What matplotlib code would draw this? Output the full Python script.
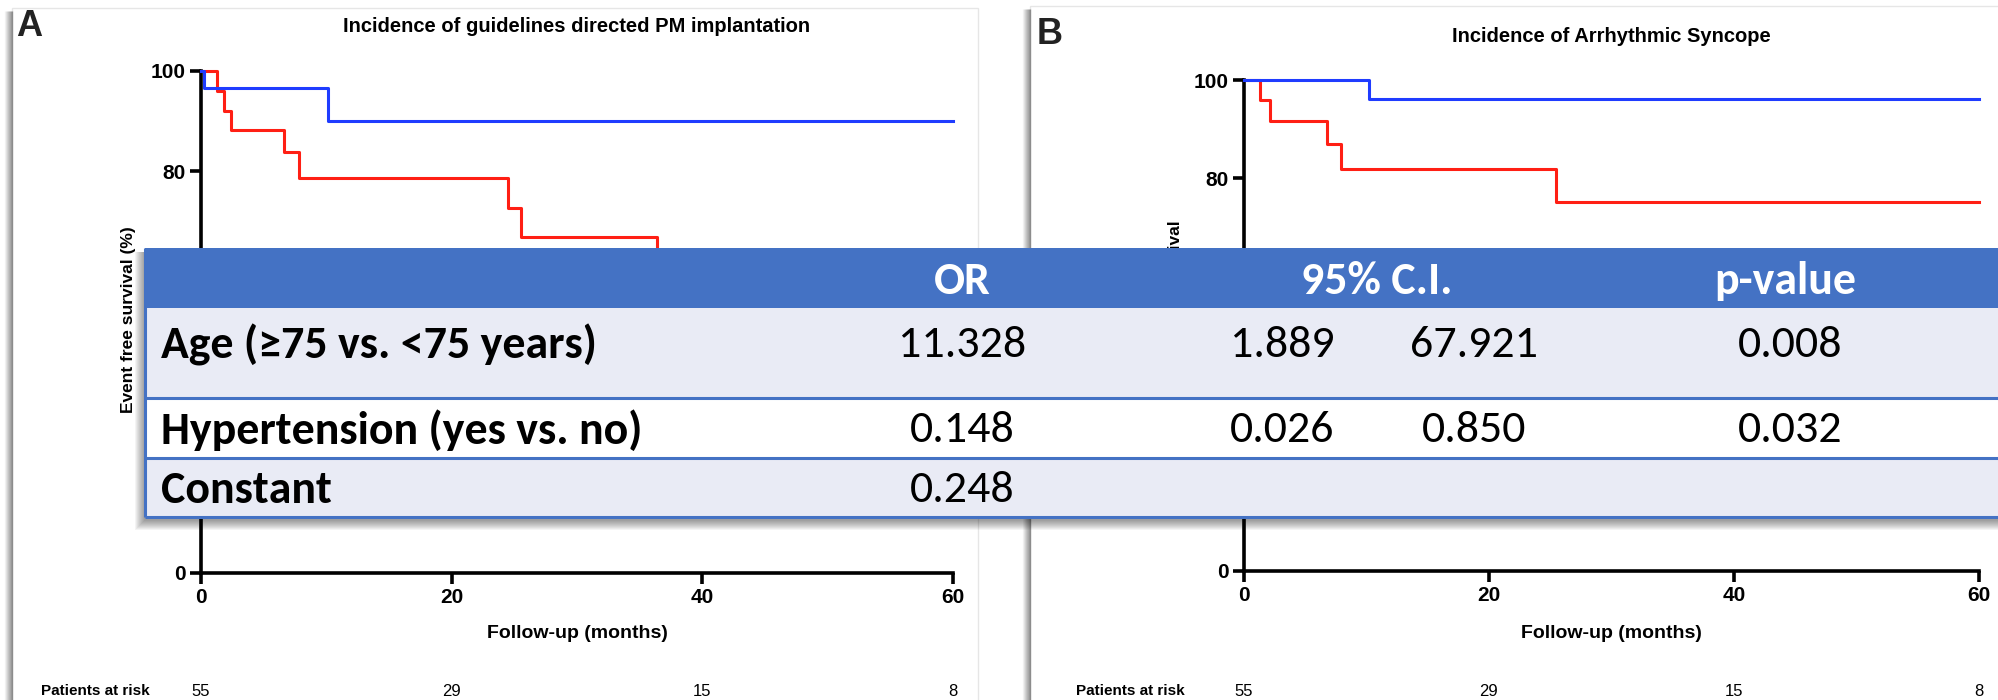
import matplotlib
matplotlib.use('Agg')
import matplotlib.pyplot as plt
from matplotlib.patches import Rectangle
from matplotlib.transforms import blended_transform_factory

W, H = 1998, 700

# Courbes de survie (temps en mois, survie en %)
a_blue_t = [0, 0.2, 10.1, 60]
a_blue_s = [100, 96.7, 90.0, 90.0]
a_red_t = [0, 1.3, 1.8, 2.4, 6.6, 7.8, 24.5, 25.5, 36.4, 60]
a_red_s = [100, 96.1, 92.1, 88.2, 83.8, 78.7, 72.8, 66.9, 58.0, 58.0]

b_blue_t = [0, 10.2, 60]
b_blue_s = [100, 96.2, 96.2]
b_red_t = [0, 1.3, 2.1, 6.8, 7.9, 25.5, 60]
b_red_s = [100, 96.0, 91.7, 87.0, 81.8, 75.2, 75.2]

risk_t = [0, 20, 40, 60]
risk_n = [55, 29, 15, 8]

y_ticks = [0, 20, 40, 60, 80, 100]
# les étiquettes 20, 40 et 60 sont cachées par le tableau
y_ticklabels = ['0', '', '', '', '80', '100']

# Tableau de la régression logistique
tbl_header = ['OR', '95% C.I.', 'p-value']
tbl_rows = ['Age (≥75 vs. <75 years)', 'Hypertension (yes vs. no)', 'Constant']
tbl_or = ['11.328', '0.148', '0.248']
tbl_ci_low = ['1.889', '0.026', '']
tbl_ci_high = ['67.921', '0.850', '']
tbl_p = ['0.008', '0.032', '']

ARIAL = ['Liberation Sans', 'DejaVu Sans']
CALIBRI = ['Carlito', 'Lato', 'DejaVu Sans']
RED = '#ff1f14'
BLUE = '#1f3cff'
TS = 33  # taille du texte du tableau


def box(x0, y0, x1, y1):
    return [x0 / W, 1 - y1 / H, (x1 - x0) / W, (y1 - y0) / H]


fig = plt.figure(figsize=(W / 100, H / 100), dpi=100)

# fond : cadres des deux panneaux
bg = fig.add_axes([0, 0, 1, 1], zorder=0)
bg.set_xlim(0, W)
bg.set_ylim(H, 0)
bg.axis('off')
for x0, y0, x1 in [(12, 8, 978), (1030, 6, 2010)]:
    bg.add_patch(Rectangle((x0, y0), x1 - x0, H + 20 - y0, facecolor='white',
                           edgecolor='#e6e6e6', lw=1))
    for k in range(8):
        bg.plot([x0 - k, x0 - k], [y0 + 3, H + 10], color='black',
                alpha=0.35 * (1 - k / 8), lw=1, solid_capstyle='butt')

panels = [
    dict(rect=(201, 71, 953, 573), letter='A', lxy=(16, 27), ylab='Event free survival (%)',
         yl_xy=(129, 320), title='Incidence of guidelines directed PM implantation', ty=27,
         risk_x=41, blue=(a_blue_t, a_blue_s), red=(a_red_t, a_red_s)),
    dict(rect=(1244, 80, 1979, 571), letter='B', lxy=(1037, 34), ylab='Event free survival',
         yl_xy=(1175, 298), title='Incidence of Arrhythmic Syncope', ty=36,
         risk_x=1076, blue=(b_blue_t, b_blue_s), red=(b_red_t, b_red_s)),
]

for p in panels:
    x0, y0, x1, y1 = p['rect']
    ax = fig.add_axes(box(x0, y0, x1, y1), zorder=1)
    ax.patch.set_alpha(0)
    ax.step(*p['red'], where='post', color=RED, lw=2.2, clip_on=False, zorder=3)
    ax.step(*p['blue'], where='post', color=BLUE, lw=2.2, clip_on=False, zorder=4)
    ax.set_xlim(0, 60)
    ax.set_ylim(0, 100)
    for s in ['top', 'right']:
        ax.spines[s].set_visible(False)
    for s in ['left', 'bottom']:
        ax.spines[s].set_linewidth(2.6)
    ax.set_xticks(risk_t)
    ax.set_yticks(y_ticks, labels=y_ticklabels)
    ax.tick_params(direction='out', length=8, width=2.6, pad=3, labelsize=15)
    for lab in ax.get_xticklabels() + ax.get_yticklabels():
        lab.set_fontfamily(ARIAL)
        lab.set_fontweight('bold')

    xc = (x0 + x1) / 2
    bg.text(xc, p['ty'], p['title'], ha='center', va='center', fontsize=14.5,
            fontweight='bold', family=ARIAL)
    bg.text(p['lxy'][0], p['lxy'][1], p['letter'], ha='left', va='center', fontsize=26,
            fontweight='bold', family=ARIAL, color='#222222')
    bg.text(p['yl_xy'][0], p['yl_xy'][1], p['ylab'], rotation=90, ha='center', va='center',
            fontsize=12.5, fontweight='bold', family=ARIAL)
    bg.text(xc, 633, 'Follow-up (months)', ha='center', va='center', fontsize=14,
            fontweight='bold', family=ARIAL)
    bg.text(p['risk_x'], 691, 'Patients at risk', ha='left', va='center', fontsize=11,
            fontweight='bold', family=ARIAL)
    tr = blended_transform_factory(ax.transData, fig.transFigure)
    for t, n in zip(risk_t, risk_n):
        ax.text(t, 1 - 691 / H, str(n), transform=tr, ha='center', va='center',
                fontsize=12, family=ARIAL, clip_on=False)

# tableau superposé
tab = fig.add_axes([0, 0, 1, 1], zorder=5)
tab.set_xlim(0, W)
tab.set_ylim(H, 0)
tab.axis('off')
tab.patch.set_alpha(0)

left, top, bottom = 145, 248, 517
edges = [248, 308, 398, 458, 517]
# ombre portée
for k in range(10):
    tab.add_patch(Rectangle((left - 10 + k, top + 4), W, bottom - top + 9 - k,
                            facecolor='black', alpha=0.045, lw=0))
fills = ['#4472c4', '#e9ebf5', '#ffffff', '#e9ebf5']
for i, c in enumerate(fills):
    tab.add_patch(Rectangle((left, edges[i]), W, edges[i + 1] - edges[i], facecolor=c, lw=0))
for y in edges[2:]:
    tab.plot([left, W + 10], [y, y], color='#4472c4', lw=2.2, solid_capstyle='butt')
tab.plot([left, left], [top, bottom], color='#4472c4', lw=2.2, solid_capstyle='butt')

hx = [962, 1377, 1785]
for x, h in zip(hx, tbl_header):
    tab.text(x, 281, h, ha='center', va='center', fontsize=TS, fontweight='bold',
             color='white', family=CALIBRI)
row_y = [345, 430, 490]
for y, lab, o, lo, hi, pv in zip(row_y, tbl_rows, tbl_or, tbl_ci_low, tbl_ci_high, tbl_p):
    tab.text(161, y, lab, ha='left', va='center', fontsize=TS, fontweight='bold',
             color='black', family=CALIBRI)
    tab.text(962, y, o, ha='center', va='center', fontsize=TS, family=CALIBRI)
    tab.text(1282, y, lo, ha='center', va='center', fontsize=TS, family=CALIBRI)
    tab.text(1474, y, hi, ha='center', va='center', fontsize=TS, family=CALIBRI)
    tab.text(1790, y, pv, ha='center', va='center', fontsize=TS, family=CALIBRI)

fig.savefig('out.png', dpi=100)
